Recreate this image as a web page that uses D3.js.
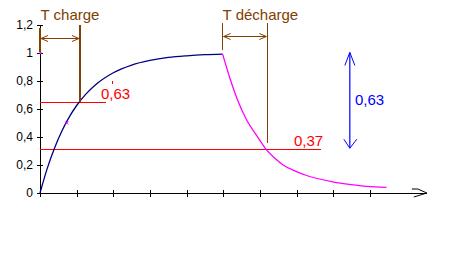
<!DOCTYPE html>
<html><head><meta charset="utf-8">
<script src="https://cdn.jsdelivr.net/npm/d3@7"></script>
<style>body{margin:0;background:#fff}svg{display:block}text{font-family:"Liberation Sans",Arial,sans-serif}</style>
</head><body><svg id="c" width="465" height="263"></svg>
<script>
// Data (time in tick units, value 0..1.2)
const xTicks = [0,1,2,3,4,5,6,7,8,9];
const yTicks = [0,0.2,0.4,0.6,0.8,1,1.2];
const yTickLabels = ["0","0,2","0,4","0,6","0,8","1","1,2"];
const chargeT = [0,0.2,0.4,0.6,0.8,1.0,1.25,1.5,2.0,2.5,3.0,3.5,4.0,4.5,4.98];
const chargeV = [0,0.178,0.324,0.445,0.544,0.625,0.706,0.77,0.859,0.914,0.947,0.968,0.98,0.988,0.992];
const dischT = [4.98,5.18,5.38,5.64,5.91,6.16,6.4,6.63,6.98,7.27,7.98,8.48,8.91,9.45];
const dischV = [0.992,0.82,0.67,0.52,0.41,0.314,0.25,0.2,0.155,0.125,0.08,0.06,0.047,0.04];
const tauCharge = 1.09, levelCharge = 0.65, chargeLineEnd = 1.8;
const dischStart = 4.98, tauDischEnd = 6.2, levelDisch = 0.314, dischLineEnd = 7.65;
const blueArrowT = 8.45, blueTop = 1.004, blueBottom = 0.32;
const axisEndT = 10.55;

const svg = d3.select("#c");
const x = d3.scaleLinear().domain([0,9]).range([40,370]);
const y = d3.scaleLinear().domain([0,1.2]).range([193,25]);

// X axis
const gx = svg.append("g").attr("transform",`translate(0,${y(0)})`)
  .call(d3.axisBottom(x).tickValues(xTicks).tickFormat("").tickSizeOuter(0));
gx.select(".domain").remove();
gx.selectAll(".tick line").attr("y1",-3.5).attr("y2",4).attr("stroke","#000").attr("shape-rendering","crispEdges");
svg.append("line").attr("x1",x(0)).attr("x2",x(axisEndT)).attr("y1",y(0)).attr("y2",y(0))
  .attr("stroke","#000").attr("shape-rendering","crispEdges");
const ax = x(axisEndT), ay = y(0);
svg.append("path").attr("d",`M${ax-15},${ay-4}L${ax-9},${ay-4}L${ax},${ay}L${ax-13},${ay+4}`)
  .attr("fill","none").attr("stroke","#000");

// Y axis
const gy = svg.append("g").attr("transform",`translate(${x(0)},0)`)
  .call(d3.axisLeft(y).tickValues(yTicks).tickFormat((d,i)=>yTickLabels[i]).tickSizeOuter(0));
gy.select(".domain").attr("d",`M0.5,${y(0)}V${y(1.2)}`).attr("stroke","#000");
gy.selectAll(".tick line").attr("x1",-3).attr("x2",3).attr("stroke","#000");
gy.selectAll(".tick text").attr("x",-7).attr("font-size",12).attr("fill","#000")
  .attr("font-family","Liberation Sans, Arial, sans-serif");

// Red reference lines
svg.append("line").attr("x1",x(0)).attr("x2",x(chargeLineEnd)).attr("y1",y(levelCharge)).attr("y2",y(levelCharge))
  .attr("stroke","#ff0000").attr("shape-rendering","crispEdges");
svg.append("line").attr("x1",x(0)).attr("x2",x(dischLineEnd)).attr("y1",y(levelDisch)).attr("y2",y(levelDisch))
  .attr("stroke","#ff0000").attr("shape-rendering","crispEdges");

// Curves
const line = d3.line().x(d=>x(d[0])).y(d=>y(d[1])).curve(d3.curveMonotoneX);
svg.append("path").datum(chargeT.map((t,i)=>[t,chargeV[i]])).attr("d",line)
  .attr("fill","none").attr("stroke","#000080").attr("stroke-width",1.3);
svg.append("path").datum(dischT.map((t,i)=>[t,dischV[i]])).attr("d",line)
  .attr("fill","none").attr("stroke","#ff00ff").attr("stroke-width",1.3);

// Brown annotations
const brown = "#804000";
function vline(t,v1py,v2py,col){svg.append("line").attr("x1",x(t)).attr("x2",x(t)).attr("y1",v1py).attr("y2",v2py)
  .attr("stroke",col).attr("stroke-width",1.2).attr("shape-rendering","crispEdges");}
vline(0,28,52,brown);
vline(tauCharge,25,y(levelCharge),brown);
vline(dischStart,23,50,brown);
vline(tauDischEnd,23,143,brown);
function harrow(t1,t2,py,col){
  const a=x(t1)+1,b=x(t2)-1;
  svg.append("line").attr("x1",a).attr("x2",b).attr("y1",py).attr("y2",py).attr("stroke",col).attr("stroke-width",1.2);
  svg.append("path").attr("d",`M${a+7},${py-3}L${a},${py}L${a+7},${py+3}M${b-7},${py-3}L${b},${py}L${b-7},${py+3}`)
    .attr("fill","none").attr("stroke",col);
}
harrow(0,tauCharge,38.5,brown);
harrow(dischStart,tauDischEnd,36.5,brown);
svg.append("text").attr("x",x(0)+0.5).attr("y",19.5).attr("font-size",15).attr("fill",brown).text("T charge");
svg.append("text").attr("x",x(dischStart)).attr("y",19.5).attr("font-size",15).attr("fill",brown).text("T décharge");

// Red labels
svg.append("text").attr("x",101).attr("y",99).attr("font-size",15).attr("fill","#ff0000").text("0,63");
svg.append("rect").attr("x",112).attr("y",81).attr("width",1).attr("height",3).attr("fill","#ff0000");
svg.append("text").attr("x",294).attr("y",146).attr("font-size",15).attr("fill","#ff0000").text("0,37");

// Blue arrow
const bx = x(blueArrowT), bt = y(blueTop), bb = y(blueBottom);
svg.append("line").attr("x1",bx).attr("x2",bx).attr("y1",bt).attr("y2",bb).attr("stroke","#0000ff").attr("stroke-width",1.2);
svg.append("path").attr("d",`M${bx-5},${bt+13}L${bx},${bt}L${bx+5},${bt+13}M${bx-6},${bb-9}L${bx},${bb}L${bx+7},${bb-9}`)
  .attr("fill","none").attr("stroke","#0000ff");
svg.append("text").attr("x",355).attr("y",105).attr("font-size",15).attr("fill","#0000ff").text("0,63");

// Pink markers
svg.append("rect").attr("x",x(0)-0.5).attr("y",y(1)-1).attr("width",2).attr("height",2).attr("fill","#ff00ff");
svg.append("path").attr("d",`M${x(0.73)-1.5},${y(0.5)-1.5}l3,3M${x(0.73)+1.5},${y(0.5)-1.5}l-3,3`).attr("stroke","#ff00ff");
</script></body></html>
